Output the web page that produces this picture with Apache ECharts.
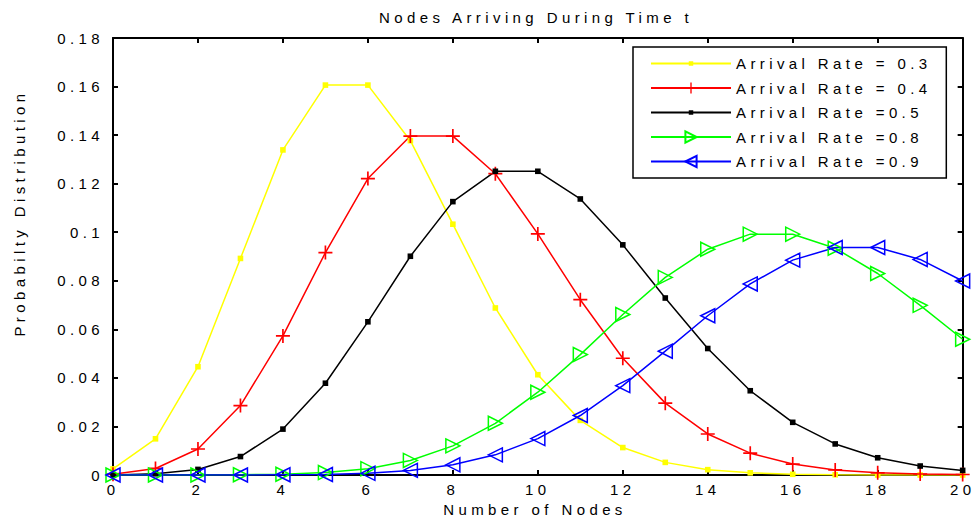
<!DOCTYPE html>
<html>
<head>
<meta charset="utf-8">
<script src="https://cdn.jsdelivr.net/npm/echarts@6/dist/echarts.min.js"></script>
<style>
  html, body { margin: 0; padding: 0; background: #fff; }
  #main { width: 974px; height: 518px; }
  #main text { letter-spacing: 4.4px; white-space: pre; }
</style>
</head>
<body>
<div id="main"></div>
<script>
// ---- Data ----
const nodes = [0,1,2,3,4,5,6,7,8,9,10,11,12,13,14,15,16,17,18,19,20];
const seriesNames = ['Arrival Rate = 0.3', 'Arrival Rate = 0.4', 'Arrival Rate =0.5', 'Arrival Rate =0.8', 'Arrival Rate =0.9'];
const rate03 = [0.0025,0.0149,0.0446,0.0892,0.1339,0.1606,0.1606,0.1377,0.1033,0.0688,0.0413,0.0225,0.0113,0.0052,0.0022,0.0009,0.0003,0.0001,0.0000,0.0000,0.0000];
const rate04 = [0.0003,0.0027,0.0107,0.0286,0.0573,0.0916,0.1221,0.1396,0.1396,0.1241,0.0993,0.0722,0.0481,0.0296,0.0169,0.0090,0.0045,0.0021,0.0009,0.0004,0.0002];
const rate05 = [0.0000,0.0005,0.0023,0.0076,0.0189,0.0378,0.0631,0.0901,0.1126,0.1251,0.1251,0.1137,0.0948,0.0729,0.0521,0.0347,0.0217,0.0128,0.0071,0.0037,0.0019];
const rate08 = [0.0000,0.0000,0.0000,0.0001,0.0003,0.0010,0.0026,0.0060,0.0120,0.0213,0.0341,0.0496,0.0661,0.0814,0.0930,0.0992,0.0992,0.0934,0.0830,0.0699,0.0559];
const rate09 = [0.0000,0.0000,0.0000,0.0000,0.0001,0.0002,0.0007,0.0019,0.0042,0.0083,0.0150,0.0245,0.0368,0.0510,0.0656,0.0787,0.0885,0.0937,0.0937,0.0888,0.0799];
const yTicks = [0,0.02,0.04,0.06,0.08,0.1,0.12,0.14,0.16,0.18];

const FONT = "'Liberation Sans', Arial, sans-serif";
const chart = echarts.init(document.getElementById('main'), null, {renderer: 'svg'});

const squareSym = 'path://M0,0M10,10M3,3H7V7H3Z';
const plusSym = 'path://M0,4.4H10V5.6H0ZM4.4,0H5.6V10H4.4Z';

function mkSeries(name, data, color, symbol, rotate, hollow) {
  return {
    name: name,
    type: 'line',
    data: nodes.map((x, i) => [x, data[i]]),
    symbol: symbol,
    symbolSize: 14,
    symbolRotate: rotate,
    showAllSymbol: true,
    lineStyle: {color: color, width: 1.5},
    itemStyle: hollow ? {color: 'rgba(0,0,0,0)', borderColor: color, borderWidth: 1.5} : {color: color, borderWidth: 0},
    emphasis: {disabled: true},
    animation: false,
    z: 2
  };
}

function axisCommon() {
  return {
    axisLine: {onZero: false, lineStyle: {color: '#000', width: 2}},
    axisTick: {inside: true, length: 5, lineStyle: {color: '#000', width: 2}},
    splitLine: {show: false}
  };
}

chart.setOption({
  animation: false,
  grid: {left: 113, right: 11, top: 38, bottom: 43, containLabel: false},
  xAxis: [
    Object.assign({type: 'value', min: 0, max: 20, interval: 2, position: 'bottom',
      axisLabel: {color: '#000', fontSize: 15, fontFamily: FONT, margin: 7}}, axisCommon()),
    Object.assign({type: 'value', min: 0, max: 20, interval: 2, position: 'top',
      axisLabel: {show: false}}, axisCommon())
  ],
  yAxis: [
    Object.assign({type: 'value', min: 0, max: 0.18, interval: 0.02, position: 'left',
      axisLabel: {color: '#000', fontSize: 15, fontFamily: FONT, margin: 9,
        formatter: v => String(+v.toFixed(2))}}, axisCommon()),
    Object.assign({type: 'value', min: 0, max: 0.18, interval: 0.02, position: 'right',
      axisLabel: {show: false}}, axisCommon())
  ],
  legend: {
    orient: 'vertical', left: 633, top: 47,
    itemWidth: 80, itemHeight: 14, itemGap: 9.5,
    padding: [9, 94, 9, 17],
    borderColor: '#000', borderWidth: 1.5, backgroundColor: '#fff',
    selectedMode: false,
    textStyle: {color: '#000', fontSize: 15, fontFamily: FONT},
    data: seriesNames
  },
  series: [
    mkSeries(seriesNames[0], rate03, '#ffff00', squareSym, 0, false),
    mkSeries(seriesNames[1], rate04, '#ff0000', plusSym, 0, false),
    mkSeries(seriesNames[2], rate05, '#000000', squareSym, 0, false),
    mkSeries(seriesNames[3], rate08, '#00ff00', 'triangle', -90, true),
    mkSeries(seriesNames[4], rate09, '#0000ff', 'triangle', 90, true)
  ],
  graphic: [
    {type: 'text', x: 536, y: 17, style: {text: 'Nodes Arriving During Time t', fill: '#000', font: '15px ' + FONT, textAlign: 'center', textVerticalAlign: 'middle'}},
    {type: 'text', x: 535, y: 509, style: {text: 'Number of Nodes', fill: '#000', font: '15px ' + FONT, textAlign: 'center', textVerticalAlign: 'middle'}},
    {type: 'text', x: 19, y: 213, rotation: Math.PI / 2, style: {text: 'Probabilty Distribution', fill: '#000', font: '15px ' + FONT, textAlign: 'center', textVerticalAlign: 'middle'}}
  ]
});
</script>
</body>
</html>
